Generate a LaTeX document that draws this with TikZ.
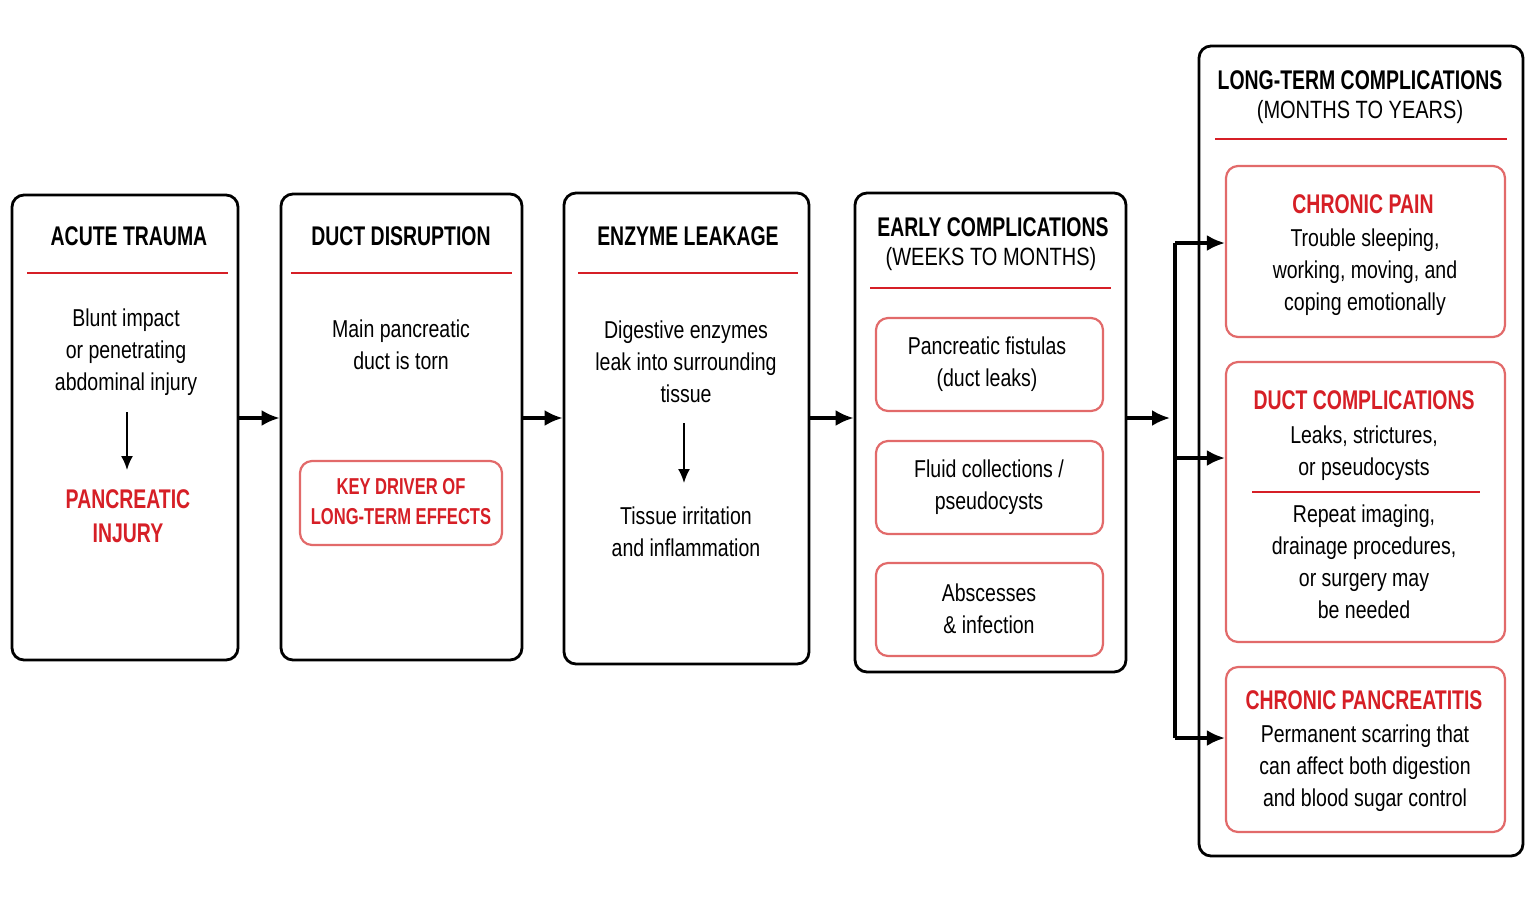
\documentclass[tikz,border=0pt]{standalone}
\usepackage{fontspec}
\setmainfont{Liberation Sans}[FakeStretch=0.8,BoldFeatures={FakeStretch=0.72}]
\usetikzlibrary{arrows.meta}
\definecolor{rd}{HTML}{D61F26}
\definecolor{rdl}{HTML}{E26A6A}
\tikzset{
 x=0.5pt,y=-0.5pt,
 big/.style={draw=black,line width=1.4pt,rounded corners=6pt,fill=white},
 sub/.style={draw=rdl,line width=1.1pt,rounded corners=6pt},
 hd/.style={font=\fontsize{13.5}{16}\selectfont\bfseries,align=center},
 hd2/.style={font=\fontsize{12.5}{16}\selectfont,align=center},
 tx/.style={font=\fontsize{12.2}{16}\selectfont,align=center},
 rh/.style={font=\fontsize{13.5}{17}\selectfont\bfseries,text=rd,align=center},
 rl/.style={draw=rd,line width=1pt},
 arr/.style={-{Latex[length=9pt,width=8pt]},line width=1.6pt},
 darr/.style={-{Latex[length=7pt,width=6pt]},line width=0.9pt},
}
\begin{document}
\begin{tikzpicture}
\useasboundingbox (0,0) rectangle (1536,902);
% box 1
\node[big,minimum width=113pt,minimum height=232.5pt] (b1) at (125,427.5) {};
\node[hd] (h1) at (129,236) {ACUTE TRAUMA};
\draw[rl] (27,273) -- (228,273);
\node[tx] (t1) at (126,352) {Blunt impact\\or penetrating\\abdominal injury};
\node[rh] (r1) at (128,516) {PANCREATIC\\INJURY};
\draw[darr] (127,412) -- (127,470);
% box 2
\node[big,minimum width=120.5pt,minimum height=233pt] (b2) at (401.5,427) {};
\node[hd] (h2) at (401,236) {DUCT DISRUPTION};
\draw[rl] (291,273) -- (512,273);
\node[tx] (t2) at (401,345) {Main pancreatic\\duct is torn};
\node[sub,minimum width=101pt,minimum height=42pt] (k2) at (401,503) {};
\node[font=\fontsize{11.5}{15}\selectfont\bfseries,text=rd,align=center] at (401,502) {KEY DRIVER OF\\LONG-TERM EFFECTS};
% box 3
\node[big,minimum width=122.5pt,minimum height=235.5pt] (b3) at (686.5,428.5) {};
\node[hd] (h3) at (688,236) {ENZYME LEAKAGE};
\draw[rl] (578,273) -- (798,273);
\node[tx] (t3) at (686,362) {Digestive enzymes\\leak into surrounding\\tissue};
\node[tx] (t3b) at (686,532) {Tissue irritation\\and inflammation};
\draw[darr] (684,423) -- (684,483);
% box 4
\node[big,minimum width=135.5pt,minimum height=239.5pt] (b4) at (990.5,432.5) {};
\node[hd] (h4) at (993,227) {EARLY COMPLICATIONS};
\node[hd2] at (991,259) {(WEEKS TO MONTHS)};
\draw[rl] (870,288) -- (1111,288);
\node[sub,minimum width=113.5pt,minimum height=46.5pt] (e1) at (989.5,364.5) {};
\node[tx] at (987,364) {Pancreatic fistulas\\(duct leaks)};
\node[sub,minimum width=113.5pt,minimum height=46.5pt] (e2) at (989.5,487.5) {};
\node[tx] at (989,487) {Fluid collections /\\pseudocysts};
\node[sub,minimum width=113.5pt,minimum height=46.5pt] (e3) at (989.5,609.5) {};
\node[tx] at (989,609) {Abscesses\\\& infection};
% box 5
\node[big,minimum width=162pt,minimum height=405pt] (b5) at (1361,451) {};
\node[hd] (h5) at (1360,80) {LONG-TERM COMPLICATIONS};
\node[hd2] at (1360,112) {(MONTHS TO YEARS)};
\draw[rl] (1215,139) -- (1507,139);
\node[sub,minimum width=139.5pt,minimum height=85.5pt] (c1) at (1365.5,251.5) {};
\node[rh] at (1363,204) {CHRONIC PAIN};
\node[tx] at (1365,272) {Trouble sleeping,\\working, moving, and\\coping emotionally};
\node[sub,minimum width=139.5pt,minimum height=140pt] (c2) at (1365.5,502) {};
\node[rh] at (1364,400) {DUCT COMPLICATIONS};
\node[tx] at (1364,453) {Leaks, strictures,\\or pseudocysts};
\draw[rl,line width=0.8pt] (1252,492) -- (1480,492);
\node[tx] at (1364,562) {Repeat imaging,\\drainage procedures,\\or surgery may\\be needed};
\node[sub,minimum width=139.5pt,minimum height=82.5pt] (c3) at (1365.5,749.5) {};
\node[rh] at (1364,700) {CHRONIC PANCREATITIS};
\node[tx] at (1365,768) {Permanent scarring that\\can affect both digestion\\and blood sugar control};
% connectors
\coordinate (y) at (0,418);
\draw[arr] (b1.east|-y) -- (b2.west|-y);
\draw[arr] (b2.east|-y) -- (b3.west|-y);
\draw[arr] (b3.east|-y) -- (b4.west|-y);
\draw[arr] (b4.east|-y) -- (1170,418);
\draw[line width=1.6pt] (1175,243) -- (1175,738);
\draw[arr] (1175,243) -- (c1.west|-0,243);
\draw[arr] (1175,458) -- (c2.west|-0,458);
\draw[arr] (1175,738) -- (c3.west|-0,738);
\end{tikzpicture}
\end{document}
